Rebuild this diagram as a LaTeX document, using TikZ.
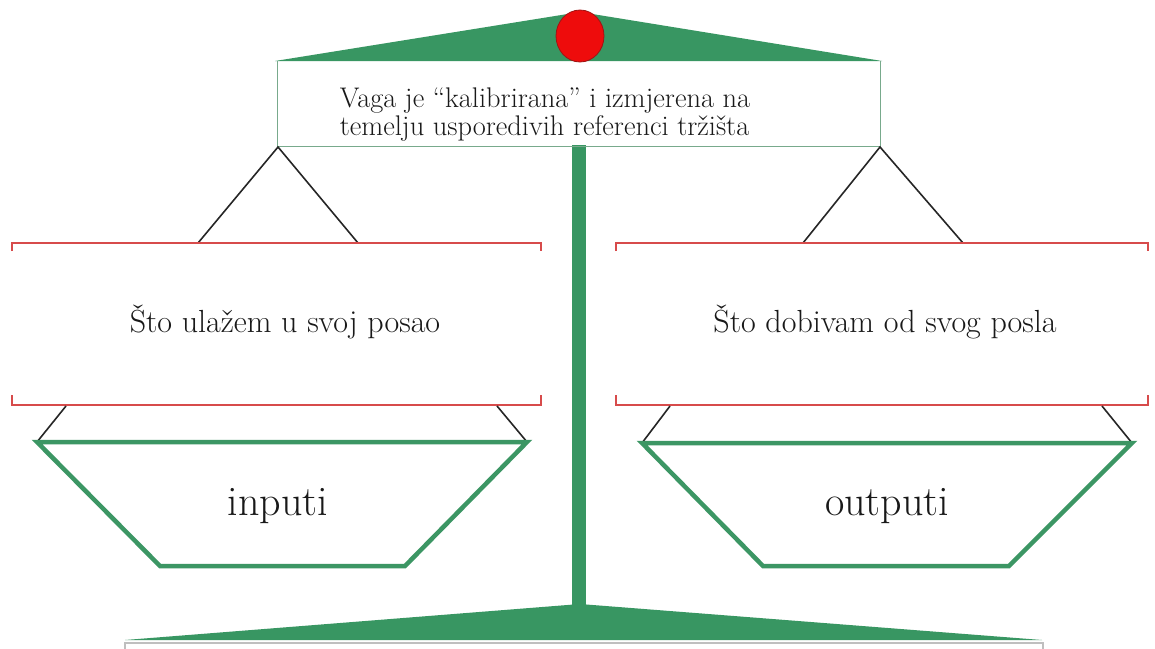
\documentclass[tikz,border=0pt]{standalone}
\definecolor{scalegreen}{RGB}{56,150,98}
\definecolor{pangreen}{RGB}{60,150,100}
\definecolor{bracketred}{RGB}{215,75,75}
\definecolor{ballred}{RGB}{238,12,12}
\definecolor{balledge}{RGB}{160,20,20}
\definecolor{boxedge}{RGB}{120,170,140}
\begin{document}
\begin{tikzpicture}[x=1pt,y=-1pt,
  hanger/.style={draw=black!85, line width=1.6pt},
  bracket/.style={draw=bracketred, line width=2.2pt},
  pan/.style={draw=pangreen, line width=4.5pt, line join=miter},
  label/.style={font=\fontsize{32}{36}\selectfont, text=black!90, inner sep=0pt, anchor=base},
  panlabel/.style={font=\fontsize{42}{46}\selectfont, text=black!90, inner sep=0pt, anchor=base},
  toplabel/.style={font=\fontsize{28.4}{28}\selectfont, text=black!90, align=left, inner sep=0pt}]
\useasboundingbox (0,0) rectangle (1155,648);
\fill[white] (0,0) rectangle (1155,648);
% pole and base
\fill[scalegreen] (572,140) rectangle (586,610);
\fill[scalegreen] (125,640) -- (580,604) -- (1042,640) -- cycle;
\draw[black!25, line width=1.2pt] (125,650) -- (125,643) -- (1043,643) -- (1043,650);
% top beam
\fill[scalegreen] (275,61) -- (580,12) -- (882,61) -- cycle;
\fill[white] (277,62) rectangle (880,145);
\draw[boxedge, line width=1pt] (277,61) -- (277,146) -- (880,146) -- (880,61);
\node[toplabel] (caption) at (545,115) {Vaga je “kalibrirana” i izmjerena na\\temelju usporedivih referenci tržišta};
\fill[ballred, draw=balledge, line width=0.8pt] (580,36) ellipse (24 and 26);
% hanger points
\coordinate (lt) at (278,147);
\coordinate (rt) at (880,147);
\coordinate (la) at (198,243);
\coordinate (lb) at (358,243);
\coordinate (ra) at (803,243);
\coordinate (rb) at (963,243);
\draw[hanger] (la) -- (lt) -- (lb);
\draw[hanger] (ra) -- (rt) -- (rb);
% brackets
\draw[bracket] (12,251) -- (12,243) -- (541,243) -- (541,251);
\draw[bracket] (12,395) -- (12,405) -- (541,405) -- (541,395);
\draw[bracket] (616,251) -- (616,243) -- (1148,243) -- (1148,251);
\draw[bracket] (616,395) -- (616,405) -- (1148,405) -- (1148,395);
\node[label] (leftq) at (285,332) {Što ulažem u svoj posao};
\node[label] (rightq) at (885,332) {Što dobivam od svog posla};
% pans
\coordinate (lpa) at (66,406);
\coordinate (lpb) at (497,406);
\coordinate (lpl) at (37,442);
\coordinate (lpr) at (527,442);
\coordinate (rpa) at (670,406);
\coordinate (rpb) at (1102,406);
\coordinate (rpl) at (642,443);
\coordinate (rpr) at (1132,443);
\draw[hanger] (lpa) -- (lpl);
\draw[hanger] (lpb) -- (lpr);
\draw[hanger] (rpa) -- (rpl);
\draw[hanger] (rpb) -- (rpr);
\draw[pan] (lpl) -- (lpr) -- (405,566) -- (160,566) -- cycle;
\draw[pan] (rpl) -- (rpr) -- (1009,566) -- (763,566) -- cycle;
\node[panlabel] (inp) at (278,515) {inputi};
\node[panlabel] (outp) at (887,515) {outputi};
\end{tikzpicture}
\end{document}
